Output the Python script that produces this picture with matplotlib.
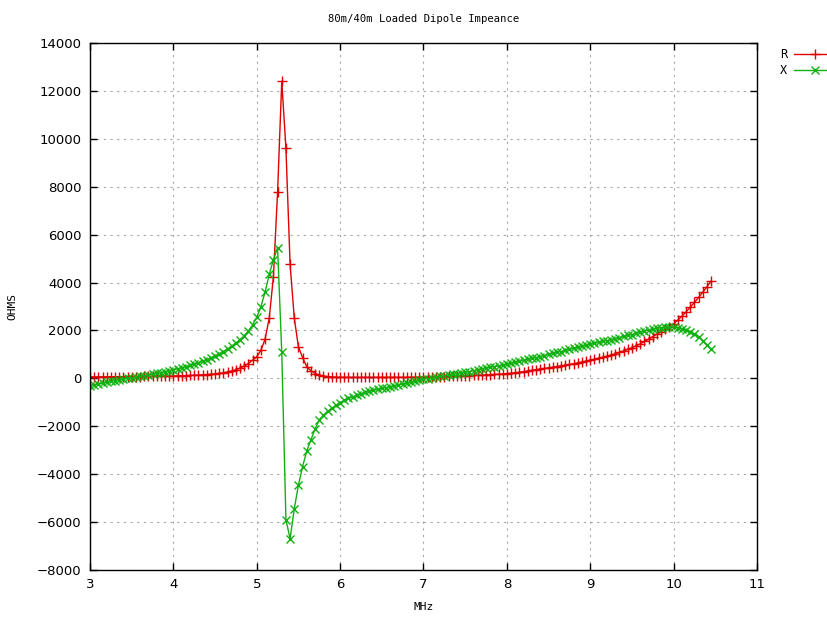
import numpy as np
import matplotlib
matplotlib.use("Agg")
import matplotlib.pyplot as plt

# frequency sweep, 3.00 .. 10.45 MHz in 0.05 MHz steps
freq = np.round(np.arange(3.0, 10.451, 0.05), 2)

# resistance R (ohms), one row per 0.5 MHz
r_ohms = [
    60, 60, 60, 62, 64, 65, 66, 68, 70, 70,
    72, 74, 76, 78, 80, 82, 85, 88, 92, 96,
    100, 105, 110, 116, 122, 130, 138, 148, 160, 172,
    190, 208, 235, 270, 310, 360, 430, 520, 620, 760,
    900, 1170, 1640, 2520, 4250, 7790, 12400, 9600, 4760, 2520,
    1310, 870, 480, 320, 200, 140, 100, 75, 60, 50,
    45, 42, 40, 40, 40, 40, 40, 40, 40, 40,
    40, 40, 40, 40, 42, 42, 42, 44, 44, 45,
    46, 50, 55, 60, 66, 72, 78, 85, 92, 100,
    108, 115, 122, 130, 138, 146, 155, 164, 172, 185,
    200, 215, 235, 255, 280, 310, 340, 365, 390, 415,
    440, 465, 495, 520, 550, 580, 610, 645, 680, 720,
    760, 800, 840, 880, 925, 975, 1030, 1085, 1150, 1215,
    1280, 1360, 1440, 1540, 1640, 1740, 1850, 1950, 2050, 2160,
    2280, 2430, 2600, 2780, 2970, 3170, 3380, 3600, 3830, 4070,
]

# reactance X (ohms)
x_ohms = [
    -300, -270, -240, -200, -160, -125, -90, -60, -30, 0,
    30, 55, 85, 115, 145, 175, 205, 235, 275, 320,
    360, 400, 440, 490, 540, 590, 650, 710, 780, 850,
    930, 1020, 1120, 1230, 1350, 1480, 1620, 1780, 1980, 2230,
    2550, 3000, 3600, 4350, 4950, 5450, 1080, -5900, -6700, -5450,
    -4450, -3680, -3030, -2560, -2100, -1750, -1550, -1380, -1250, -1130,
    -1020, -920, -840, -770, -700, -640, -590, -540, -500, -460,
    -420, -385, -350, -315, -280, -240, -200, -160, -120, -80,
    -40, -10, 20, 50, 80, 110, 140, 165, 190, 215,
    250, 280, 320, 360, 395, 430, 465, 495, 520, 550,
    590, 630, 670, 710, 750, 790, 830, 870, 910, 950,
    1000, 1040, 1080, 1120, 1170, 1210, 1250, 1290, 1340, 1380,
    1420, 1460, 1500, 1540, 1580, 1620, 1660, 1700, 1750, 1790,
    1830, 1880, 1930, 1970, 2010, 2050, 2090, 2110, 2130, 2140,
    2140, 2120, 2060, 2010, 1940, 1850, 1740, 1560, 1390, 1220,
]

x_ticks = [3, 4, 5, 6, 7, 8, 9, 10, 11]
y_ticks = list(range(-8000, 14001, 2000))

mono = "DejaVu Sans Mono"

fig = plt.figure(figsize=(8.27, 6.21), dpi=100)
ax = fig.add_axes([90 / 827, 1 - 570 / 621, 667 / 827, 527 / 621])

ax.plot(freq, r_ohms, color="#e00000", lw=1, marker="+", ms=7, mew=1, label="R")
ax.plot(freq, x_ohms, color="#10b010", lw=1, marker="x", ms=5.5, mew=1, label="X")

ax.set_xlim(3, 11)
ax.set_ylim(-8000, 14000)
ax.set_xticks(x_ticks)
ax.set_yticks(y_ticks)
ax.tick_params(direction="in", length=5, width=1, top=True, right=True,
               labelsize=9.5, colors="black", pad=6)
ax.grid(True, color="#a8a8a8", linestyle=(0, (2, 4)), linewidth=0.8)
for s in ax.spines.values():
    s.set_linewidth(1)
    s.set_color("black")

ax.set_title("80m/40m Loaded Dipole Impeance", fontfamily=mono, fontsize=7.6, pad=15)
ax.set_xlabel("MHz", fontfamily=mono, fontsize=8, labelpad=8)
ax.set_ylabel("OHMS", fontfamily=mono, fontsize=8, labelpad=14)

leg = fig.legend(loc="upper left", bbox_to_anchor=(0.93, 0.94), frameon=False,
                 markerfirst=False, handlelength=3.5, handletextpad=0.6,
                 labelspacing=0.25, prop={"family": mono, "size": 8.5})

fig.savefig("out.png", dpi=100)
